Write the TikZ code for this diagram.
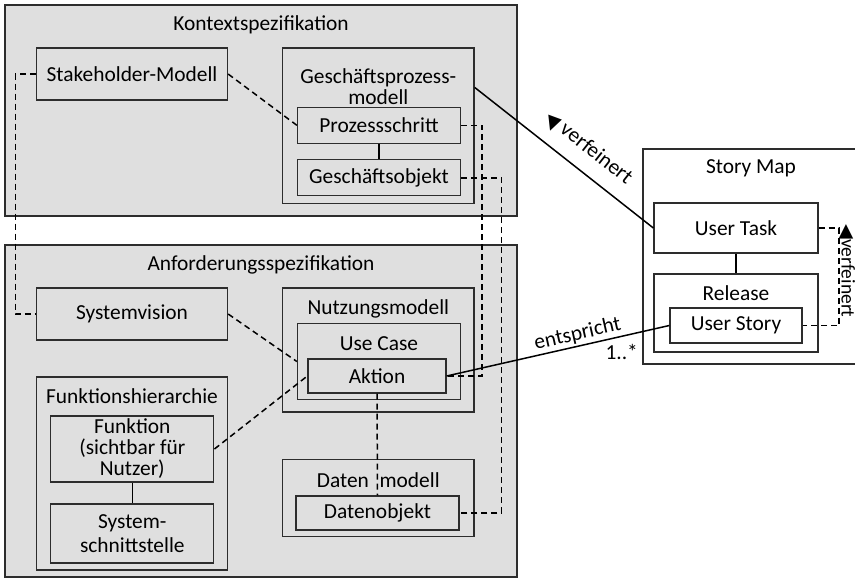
\documentclass[tikz,border=0pt]{standalone}
\usepackage{fontspec}
\usepackage{graphicx}
\setmainfont{Carlito}
\newfontfamily\symfont{DejaVu Sans}
\usetikzlibrary{calc}
\definecolor{paneGray}{RGB}{223,223,223}
\definecolor{edge}{RGB}{45,45,45}
\begin{document}
\begin{tikzpicture}[x=1pt,y=-1pt,
  font=\fontsize{21.4pt}{21pt}\selectfont,
  pane/.style={draw=edge, line width=1.5pt, fill=paneGray, inner sep=0pt},
  box/.style={draw=edge, line width=1.3pt, inner sep=0pt},
  title/.style={inner sep=0pt, align=center},
  conn/.style={line width=1.5pt, black},
  dashconn/.style={conn, dash pattern=on 6pt off 4pt},
]
\useasboundingbox (0,0) rectangle (855,579);
\fill[white] (0,0) rectangle (855,579);

% Kontextspezifikation
\node[pane, minimum width=512pt, minimum height=211pt] (ctx) at (261,110.5) {};
\node[title] at (261,25) {Kontextspezifikation};
\node[box, minimum width=191pt, minimum height=52pt] (stake) at (132,74) {Stakeholder-Modell};
\node[box, minimum width=191.4pt, minimum height=155.5pt] (gpm) at (378.3,125.8) {};
\node[title] at (378.3,87) {Geschäftsprozess-\\modell};
\node[box, minimum width=163pt, minimum height=36pt] (ps) at (379,125.3) {Prozessschritt};
\node[box, minimum width=163pt, minimum height=36pt] (go) at (379,177.8) {Geschäftsobjekt};

% Anforderungsspezifikation
\node[pane, minimum width=512pt, minimum height=332pt] (anf) at (261,411) {};
\node[title] at (261,265) {Anforderungsspezifikation};
\node[box, minimum width=191pt, minimum height=52pt] (sv) at (132,314) {Systemvision};
\node[box, minimum width=191pt, minimum height=193pt] (fh) at (132,473.5) {};
\node[title] at (132,396) {Funktionshierarchie};
\node[box, minimum width=163pt, minimum height=66pt, align=center] (fn) at (132.3,449) {Funktion\\(sichtbar für\\Nutzer)};
\node[box, minimum width=163pt, minimum height=59pt, align=center] (ss) at (132.3,533.5) {System-\\[3pt]schnittstelle};
\node[box, minimum width=191.4pt, minimum height=124pt] (nm) at (378.3,350) {};
\node[title] at (378.3,309) {Nutzungsmodell};
\node[box, minimum width=163pt, minimum height=76pt] (uc) at (379,361.5) {};
\node[title] at (379,344) {Use Case};
\node[box, minimum width=138pt, minimum height=34pt] (ak) at (377,376) {Aktion};
\node[box, minimum width=191.4pt, minimum height=76.5pt] (dm) at (378.3,498) {};
\node[title] at (378.3,480) {Daten\hspace{0.5em}modell};
\node[box, minimum width=163pt, minimum height=34pt] (do) at (377.5,513) {Datenobjekt};

% Story Map
\node[box, fill=white, minimum width=214pt, minimum height=215pt] (sm) at (750,256.5) {};
\node[title] at (751,168) {Story Map};
\node[box, minimum width=164pt, minimum height=50pt] (ut) at (736,228) {User Task};
\node[box, minimum width=164pt, minimum height=78pt] (rl) at (736,313) {};
\node[title] at (736,293) {Release};
\node[box, minimum width=132pt, minimum height=35pt] (us) at (736,325.5) {User Story};

% solid containment links
\draw[conn] (ps.south) -- (go.north);
\draw[conn] (fn.south) -- (ss.north);
\draw[conn] (ut.south) -- (rl.north);

% dashed traces
\draw[dashconn] (stake.west) -- ++(-20.5,0) |- (sv.west);
\draw[dashconn] (stake.east) -- (ps.west);
\draw[dashconn] (ps.east) -- ++(21,0) |- (ak.east);
\draw[dashconn] (go.east) -- ++(40.5,0) |- (do.east);
\draw[dashconn] (sv.east) -- (uc.west);
\draw[dashconn] (fn.east) -- (ak.west);
\draw[dashconn] (ak.south) -- (do.north);
\draw[dashconn] (ut.east) -- ++(20.5,0) coordinate (vr) |- (us.east);
\node[rotate=-90, anchor=base west, inner sep=0pt] at ($(vr)+(2.5,-3.5)$)
  {{\symfont\fontsize{19pt}{19pt}\selectfont ◀}\fontsize{19.5pt}{20pt}\selectfont verfeinert};

% refinement and correspondence
\draw[conn] ($(gpm.north east)+(0,40)$) -- node[pos=0.56, sloped, above, inner xsep=0pt, inner ysep=9pt]
  {\raisebox{-3pt}{\rotatebox[origin=c]{18}{\symfont\fontsize{19pt}{19pt}\selectfont ▼}}verfeinert} (ut.west);
\draw[conn] (ak.east) -- node[pos=0.6, sloped, above, inner sep=2pt] {entspricht}
  node[pos=0.786, anchor=north, inner sep=2pt, yshift=-5pt] {1..*} (us.west);
\end{tikzpicture}
\end{document}
